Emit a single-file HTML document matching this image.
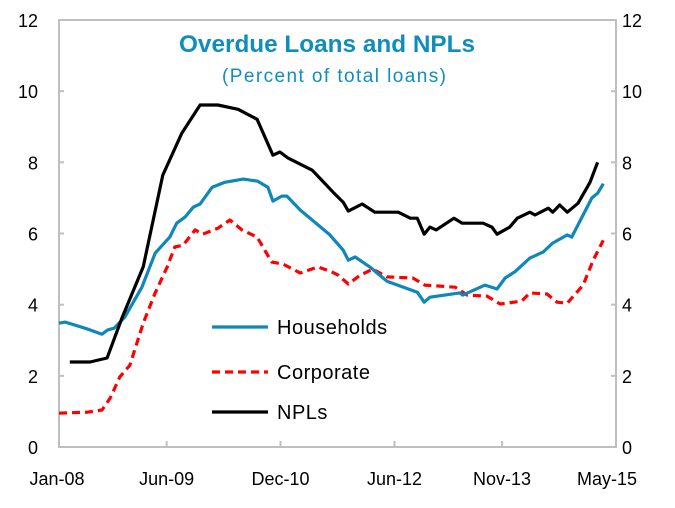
<!DOCTYPE html>
<html><head><meta charset="utf-8"><style>
body{margin:0;background:#fff}
svg text{font-family:"Liberation Sans",sans-serif}
</style></head><body>
<svg id="chart" width="675" height="503" viewBox="0 0 675 503" xmlns="http://www.w3.org/2000/svg">
<g id="axes"></g><g id="series"></g><g id="legend"></g>
<text x="327" y="52" text-anchor="middle" font-size="24" font-weight="bold" fill="#108dbf" textLength="296" lengthAdjust="spacingAndGlyphs">Overdue Loans and NPLs</text>
<text x="334" y="82" text-anchor="middle" font-size="19" fill="#108dbf" textLength="224" lengthAdjust="spacing">(Percent of total loans)</text>
</svg>
<script>
const xTickLabels=["Jan-08","Jun-09","Dec-10","Jun-12","Nov-13","May-15"];
const xTickMonths=[0,17,35,53,70,88];
const yTicks=[0,2,4,6,8,10,12];
const hhMonths=[0,1,4.6,6.8,7.7,8.7,10.4,13.1,15.2,17.5,18.6,19.9,21.2,22.3,24.2,26.2,29.1,31.4,33,33.8,35.2,36,38.1,42.8,44.9,45.7,46.8,49.1,51.8,56.6,57.7,58.6,63.3,63.8,67.3,69.2,70.5,72,74.4,76.5,78,80.3,81,84.2,85.1,86];
const hhValues=[3.48,3.51,3.31,3.17,3.29,3.34,3.65,4.49,5.45,5.9,6.29,6.46,6.74,6.83,7.3,7.44,7.53,7.47,7.3,6.91,7.05,7.05,6.66,5.96,5.53,5.25,5.34,5.06,4.66,4.35,4.07,4.21,4.33,4.27,4.55,4.44,4.75,4.92,5.31,5.48,5.73,5.96,5.9,7.0,7.13,7.4];
const corpMonths=[0,4.6,6.8,8.1,9.6,11.2,13.3,15.2,17.1,18.3,19.6,21.5,22.7,25.1,27,28.9,31.3,33.6,35.4,38.1,40.9,43.1,44.1,45.7,47.6,49.6,51.8,55.9,57.8,62.6,64.5,67.6,69.7,73.1,74.4,77.1,78.7,80.3,82.8,84.4,86];
const corpValues=[0.95,0.98,1.04,1.38,1.97,2.3,3.48,4.33,5.06,5.62,5.67,6.1,5.98,6.15,6.38,6.1,5.9,5.2,5.14,4.89,5.06,4.92,4.83,4.58,4.83,5.0,4.78,4.75,4.55,4.49,4.27,4.24,4.02,4.1,4.33,4.3,4.07,4.04,4.55,5.25,5.81];
const nplMonths=[1.7,4.9,7.6,10,13.3,16.4,19.4,22.3,25.1,28.3,31.3,33.8,34.9,36.2,40,41.5,43.3,44.9,45.7,47.9,49.9,53.6,55.5,56.6,57.7,58.6,59.6,62.4,63.7,67,68.4,69.2,71.2,72.4,74.4,75.2,77.3,78,79.1,80.3,82,83.9,85.1];
const nplValues=[2.39,2.39,2.5,3.65,5.06,7.64,8.82,9.61,9.61,9.49,9.21,8.2,8.29,8.12,7.78,7.5,7.16,6.88,6.63,6.83,6.6,6.6,6.43,6.43,5.98,6.18,6.1,6.43,6.29,6.29,6.18,5.98,6.18,6.43,6.6,6.52,6.71,6.6,6.8,6.6,6.85,7.44,8.0];
const seriesNames=["Households","Corporate","NPLs"];

const NS="http://www.w3.org/2000/svg";
const X0=59,X1=616,Y0=447,Y1=20;
const xs=m=>X0+m*(X1-X0)/88;
const ys=v=>Y0-v*(Y0-Y1)/12;
function mk(tag,attrs,parent){const e=document.createElementNS(NS,tag);for(const k in attrs)e.setAttribute(k,attrs[k]);parent.appendChild(e);return e;}
const axes=document.getElementById('axes');
const frame=mk('rect',{x:X0,y:Y1,width:X1-X0,height:Y0-Y1,fill:'none',stroke:'#bfbfbf','stroke-width':2},axes);


yTicks.forEach(v=>{
  const y=ys(v);
  const t1=mk('line',{x1:X0,x2:X0+5,y1:y,y2:y,stroke:'#bfbfbf','stroke-width':2},axes);
  
  
  const t2=mk('line',{x1:X1-5,x2:X1,y1:y,y2:y,stroke:'#bfbfbf','stroke-width':2},axes);
  
  
  const l=mk('text',{x:38,y:y+7,'text-anchor':'end','font-size':18,fill:'#000'},axes);l.textContent=v;
  
  
  const r=mk('text',{x:622,y:y+7,'font-size':18,fill:'#000'},axes);r.textContent=v;
  
  
});
xTickLabels.forEach((lab,i)=>{
  const x=xs(xTickMonths[i]);
  if(i>0&&i<xTickLabels.length-1){
    const t=mk('line',{x1:x,x2:x,y1:Y0-6,y2:Y0,stroke:'#bfbfbf','stroke-width':2},axes);
    
    
  }
  const tx=mk('text',{x:i==0?x-2:(i==xTickLabels.length-1?x-9:x),y:485,'text-anchor':'middle','font-size':18,fill:'#000'},axes);tx.textContent=lab;
  
  
});
const sg=document.getElementById('series');
function line(ms,vs,color,dash,name){
  const d=ms.map((m,i)=>(i?'L':'M')+xs(m).toFixed(1)+','+ys(vs[i]).toFixed(1)).join('');
  const p=mk('path',{d:d,fill:'none',stroke:color,'stroke-width':3.2,'stroke-linejoin':'round'},sg);
  if(dash)p.setAttribute('stroke-dasharray',dash);
  
  
}
line(corpMonths,corpValues,'#ff0000','8,5','corporate-line');
line(hhMonths,hhValues,'#0f87b8',null,'households-line');
line(nplMonths,nplValues,'#000',null,'npls-line');
const lg=document.getElementById('legend');
const lcolors=['#0f87b8','#ff0000','#000'],ly=[327,372,412];
seriesNames.forEach((n,i)=>{
  const l=mk('line',{x1:212,x2:268,y1:ly[i],y2:ly[i],stroke:lcolors[i],'stroke-width':3.2},lg);
  if(i==1)l.setAttribute('stroke-dasharray','8,5');
  
  
  const t=mk('text',{x:277,y:ly[i]+7,'font-size':20,fill:'#000','letter-spacing':'0.5'},lg);t.textContent=n;
  
  
});
</script>
</body></html>
